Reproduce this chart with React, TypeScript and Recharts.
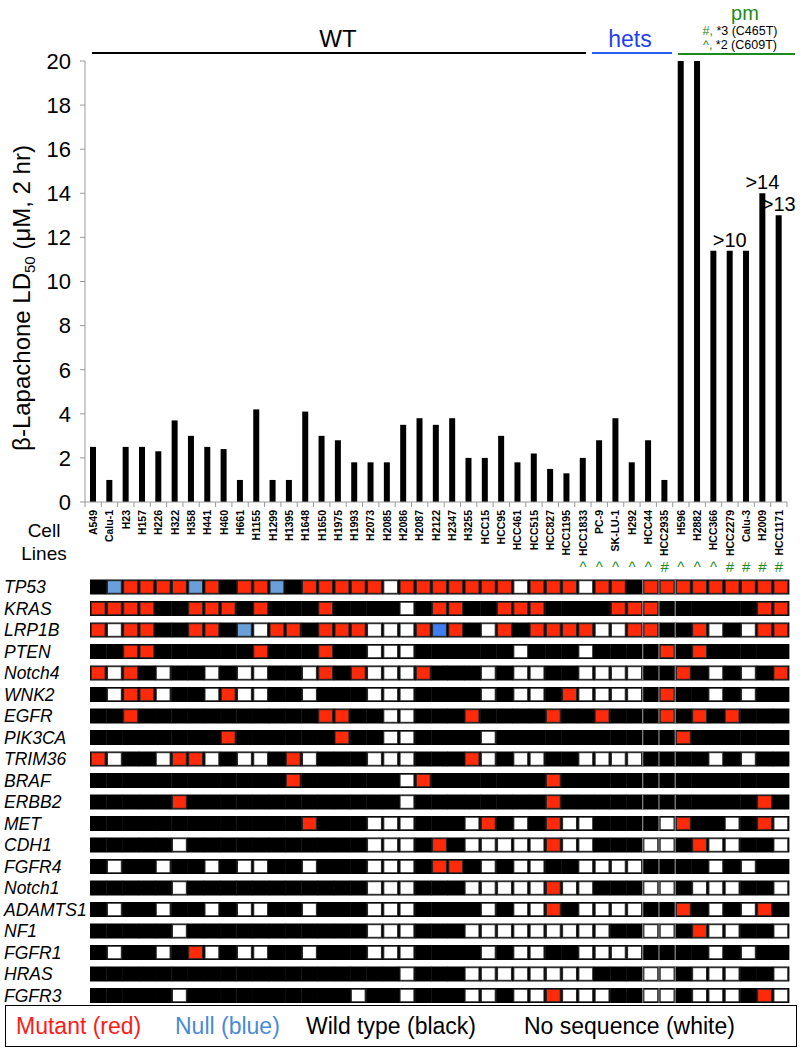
import React from "react";
import {
  BarChart,
  Bar,
  XAxis,
  YAxis,
  LabelList,
  ScatterChart,
  Scatter,
} from "recharts";

const cellLines = [
  "A549", "Calu-1", "H23", "H157", "H226", "H322", "H358", "H441", "H460", "H661",
  "H1155", "H1299", "H1395", "H1648", "H1650", "H1975", "H1993", "H2073", "H2085", "H2086",
  "H2087", "H2122", "H2347", "H3255", "HCC15", "HCC95", "HCC461", "HCC515", "HCC827", "HCC1195",
  "HCC1833", "PC-9", "SK-LU-1", "H292", "HCC44", "HCC2935", "H596", "H2882", "HCC366", "HCC2279",
  "Calu-3", "H2009", "HCC1171",
];

const ld50 = [
  2.5, 1.0, 2.5, 2.5, 2.3, 3.7, 3.0, 2.5, 2.4, 1.0,
  4.2, 1.0, 1.0, 4.1, 3.0, 2.8, 1.8, 1.8, 1.8, 3.5,
  3.8, 3.5, 3.8, 2.0, 2.0, 3.0, 1.8, 2.2, 1.5, 1.3,
  2.0, 2.8, 3.8, 1.8, 2.8, 1.0, 20, 20, 11.4, 11.4,
  11.4, 14, 13,
];

// text over the capped bars
const ldNotes = [
  "", "", "", "", "", "", "", "", "", "",
  "", "", "", "", "", "", "", "", "", "",
  "", "", "", "", "", "", "", "", "", "",
  "", "", "", "", "", "", "", "", "", ">10",
  "", ">14", ">13",
];

// NQO1 genotype marks under the labels
const markers = [
  "", "", "", "", "", "", "", "", "", "",
  "", "", "", "", "", "", "", "", "", "",
  "", "", "", "", "", "", "", "", "", "",
  "^", "^", "^", "^", "^", "#", "^", "^", "^", "#",
  "#", "#", "#",
];

const yTicks = [0, 2, 4, 6, 8, 10, 12, 14, 16, 18, 20];

const genes = [
  "TP53", "KRAS", "LRP1B", "PTEN", "Notch4", "WNK2", "EGFR", "PIK3CA", "TRIM36", "BRAF",
  "ERBB2", "MET", "CDH1", "FGFR4", "Notch1", "ADAMTS1", "NF1", "FGFR1", "HRAS", "FGFR3",
];

// one letter per cell line: K wild type, R mutant, B/b null, W no sequence
const geneStatus = [
  "KBRRRRBRKR" + "RBKRRRRRWR" + "RRRRRRWRRR" + "WRRKRRRRRR" + "RRR",
  "RRRRKKRRRK" + "RKKKRKKKKW" + "KRRKKRRRKK" + "KKRRRKKKKK" + "KRR",
  "RWRRKKRRKB" + "WRRKRRRWWW" + "RbRKWRKRRR" + "RWWRRKKRWK" + "WRR",
  "KKRRKKKKKK" + "RKKKRKKWWW" + "KKKKKKWKKK" + "WKKKKRKRKK" + "KKK",
  "RWRKWKKWKW" + "WKKWRKRWWW" + "RKKKWKWWKK" + "WWWWKKRKWK" + "WKR",
  "KWRRWKKWRW" + "WKKWKKKWWW" + "KKKKWKWWKR" + "WWWWKRKKWK" + "WKK",
  "KKRKKKKKKK" + "KKKKRRKKWW" + "KKKRKKKKRK" + "KRKKKRKRKR" + "KKK",
  "KKKKKKKKRK" + "KKKKKRKKWW" + "KKKKWKKKKK" + "KKKKKKRKKK" + "KKK",
  "RWKKWRRWKW" + "WKRWKKKWWW" + "KKKRWKWWKK" + "WWWWKKKKWK" + "WKK",
  "KKKKKKKKKK" + "KKRKKKKKKW" + "RKKKKKKKRK" + "KKKKKKKKKK" + "KKK",
  "KKKKKRKKKK" + "KKKKKKKKKW" + "KKKKKKKKRK" + "KKKKKKKKKK" + "KRK",
  "KKKKKKKKKK" + "KKKRKKKWWW" + "KKKWRKWKRW" + "WKKKKWRKKW" + "KRW",
  "KKKKKWKKKK" + "KKKKKKKWWW" + "KRKWWWWWRW" + "WKKKWWKRWW" + "KKW",
  "KWKKWKKWKW" + "WKKWKKKWWW" + "KRRKWKWWKK" + "WWWWKKKKWK" + "WKK",
  "KKKKKWKKKK" + "KKKKKKKWWW" + "KKKWWWWWRW" + "WKKKWWKWWW" + "KKW",
  "KWKKWKKWKW" + "WKKWKKKWWW" + "KKKKWKWWRK" + "WWWWKKRKWK" + "WRK",
  "KKKKKWKKKK" + "KKKKKKKWWW" + "KKKWWWWWWW" + "WWKKWWKRWW" + "KKW",
  "KWKKWKRWKW" + "WKKWKKKWWW" + "KKKKWKWWKK" + "WWWWKKKKWK" + "WKK",
  "KKKKKKKKKK" + "KKKKKKKKKW" + "KKKWWWWWWW" + "WKKKWWKWWW" + "KKW",
  "KKKKKWKKKK" + "KKKKKKWKKW" + "KKKWWKWWRW" + "WWKKWWKWWW" + "KRW",
];

const FONT = '"Liberation Sans", Arial, Helvetica, sans-serif';
const GREEN = "#1d8a1d";
const statusColor: Record<string, string> = {
  K: "#000000",
  R: "#ff2a0a",
  B: "#6a9fd9",
  b: "#3f7ef2",
  W: "#ffffff",
};

const barData = cellLines.map((name, i) => ({ name, ld50: ld50[i], note: ldNotes[i] }));
const gridData = genes.flatMap((gene, row) =>
  geneStatus[row].split("").map((status, col) => ({ col, row, gene, status }))
);

const BAR_BAND = (787 - 85) / cellLines.length;
const CELL_W = (789 - 90) / cellLines.length;
const CELL_H = 15;

function CellLineTick(props: any) {
  const { x, y, payload, index } = props;
  const i = typeof index === "number" ? index : cellLines.indexOf(payload.value);
  const mark = markers[i];
  const left = x - BAR_BAND / 2;
  return (
    <g>
      <line x1={left} x2={left} y1={y} y2={y + 5} stroke="#999" />
      {i === cellLines.length - 1 && (
        <line x1={x + BAR_BAND / 2} x2={x + BAR_BAND / 2} y1={y} y2={y + 5} stroke="#999" />
      )}
      <text
        transform={`translate(${x},${y + 8}) rotate(-90)`}
        textAnchor="end"
        dy="0.36em"
        fontSize={10.5}
        fontWeight={700}
        fontFamily={FONT}
        fill="#000"
      >
        {payload.value}
      </text>
      {mark && (
        <text x={x} y={y + 70} textAnchor="middle" fontSize={15} fontFamily={FONT} fill={GREEN}>
          {mark}
        </text>
      )}
    </g>
  );
}

function YTitle() {
  return (
    <text
      transform="translate(30,298) rotate(-90)"
      textAnchor="middle"
      fontSize={24}
      fontFamily={FONT}
      fill="#000"
    >
      <tspan>β-Lapachone  LD</tspan>
      <tspan fontSize={15} dy={5}>50</tspan>
      <tspan dy={-5}>  (μM, 2 hr)</tspan>
    </text>
  );
}

function GeneTick(props: any) {
  const { y, payload } = props;
  return (
    <text x={4} y={y} dy="0.36em" fontSize={17.5} fontStyle="italic" fontFamily={FONT} fill="#000">
      {genes[payload.value]}
    </text>
  );
}

function GeneCell(props: any) {
  const { cx, cy, payload } = props;
  if (cx == null || cy == null) return null;
  const x = cx - CELL_W / 2;
  const y = cy - CELL_H / 2;
  const s = payload.status;
  return (
    <g>
      <rect x={x} y={y} width={CELL_W + 0.4} height={CELL_H} fill="#000" />
      {s !== "K" && (
        <rect
          x={x + 1.2}
          y={y + 1.2}
          width={CELL_W - 2.4}
          height={CELL_H - 2.4}
          fill={statusColor[s]}
          stroke="#262626"
          strokeWidth={1}
        />
      )}
      {(payload.col === 34 || payload.col === 35 || payload.col === 36) && (
        <line x1={x} x2={x} y1={y} y2={y + CELL_H} stroke="#8a8a8a" strokeWidth={1.2} />
      )}
    </g>
  );
}

export default function App() {
  return (
    <div style={{ position: "absolute", left: 0, top: 0, width: 803, height: 1050, background: "#fff", fontFamily: FONT }}>
      {/* LD50 bars */}
      <div style={{ position: "absolute", left: 0, top: 0 }}>
        <BarChart
          width={803}
          height={575}
          data={barData}
          margin={{ top: 61, right: 16, left: 0, bottom: 0 }}
          barCategoryGap={0}
        >
          <XAxis
            dataKey="name"
            interval={0}
            height={73}
            tickLine={false}
            tickSize={0}
            tickMargin={0}
            axisLine={{ stroke: "#999" }}
            tick={<CellLineTick />}
          />
          <YAxis
            width={85}
            domain={[0, 20]}
            ticks={yTicks}
            interval={0}
            tickSize={5}
            tickMargin={9}
            axisLine={{ stroke: "#999" }}
            tickLine={{ stroke: "#999" }}
            tick={{ fontSize: 22, fill: "#000", fontFamily: FONT }}
            label={{ content: <YTitle /> }}
          />
          <Bar dataKey="ld50" fill="#000" barSize={6} isAnimationActive={false}>
            <LabelList dataKey="note" position="top" offset={4} fontSize={20} fill="#000" fontFamily={FONT} />
          </Bar>
        </BarChart>
      </div>

      {/* mutation grid */}
      <div style={{ position: "absolute", left: 0, top: 570 }}>
        <ScatterChart width={803} height={445} margin={{ top: 6.25, right: 14, left: 0, bottom: 8.75 }}>
          <XAxis type="number" dataKey="col" domain={[-0.5, cellLines.length - 0.5]} hide />
          <YAxis
            type="number"
            dataKey="row"
            domain={[-0.5, genes.length - 0.5]}
            ticks={genes.map((_, i) => i)}
            interval={0}
            reversed
            width={90}
            axisLine={false}
            tickLine={false}
            tick={<GeneTick />}
          />
          <Scatter data={gridData} shape={<GeneCell />} isAnimationActive={false} />
        </ScatterChart>
      </div>

      {/* group headers */}
      <svg width={803} height={570} style={{ position: "absolute", left: 0, top: 0, pointerEvents: "none" }}>
        <text x={338} y={47} textAnchor="middle" fontSize={24} fontFamily={FONT} fill="#000">WT</text>
        <line x1={92} x2={586} y1={53} y2={53} stroke="#000" strokeWidth={2} />
        <text x={630} y={47} textAnchor="middle" fontSize={23} fontFamily={FONT} fill="#1f3ff0">hets</text>
        <line x1={592} x2={672} y1={53} y2={53} stroke="#2b5cf0" strokeWidth={2} />
        <text x={745} y={20} textAnchor="middle" fontSize={20} fontFamily={FONT} fill={GREEN}>pm</text>
        <text x={740} y={34.5} textAnchor="middle" fontSize={12.5} fontFamily={FONT} fill="#000">
          <tspan fill={GREEN}>#,</tspan> *3 (C465T)
        </text>
        <text x={740} y={49} textAnchor="middle" fontSize={12.5} fontFamily={FONT} fill="#000">
          <tspan fill={GREEN}>^,</tspan> *2 (C609T)
        </text>
        <line x1={678} x2={795} y1={54} y2={54} stroke={GREEN} strokeWidth={2} />
        <text x={44} y={537} textAnchor="middle" fontSize={19} fontFamily={FONT} fill="#000">Cell</text>
        <text x={44} y={560} textAnchor="middle" fontSize={19} fontFamily={FONT} fill="#000">Lines</text>
      </svg>

      {/* legend */}
      <div
        style={{
          position: "absolute",
          left: 5,
          top: 1005,
          width: 790,
          height: 40,
          border: "1px solid #000",
          fontSize: 23,
          lineHeight: "40px",
          whiteSpace: "nowrap",
        }}
      >
        <span style={{ position: "absolute", left: 10, color: "#ff1a1a" }}>Mutant (red)</span>
        <span style={{ position: "absolute", left: 169, color: "#4a8ad8" }}>Null (blue)</span>
        <span style={{ position: "absolute", left: 300, color: "#000" }}>Wild type (black)</span>
        <span style={{ position: "absolute", left: 518, color: "#000" }}>No sequence (white)</span>
      </div>
    </div>
  );
}
